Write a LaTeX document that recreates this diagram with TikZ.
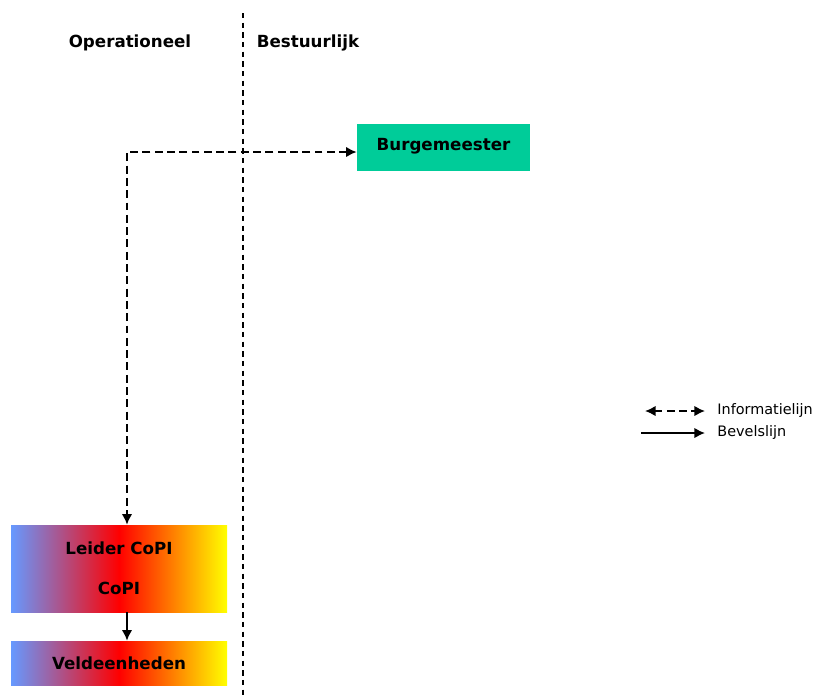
\documentclass[tikz,border=0pt]{standalone}
\usepackage{fontspec}
\setmainfont{DejaVu Sans}
\usetikzlibrary{arrows.meta, positioning}

\definecolor{burggreen}{HTML}{00CC99}
\definecolor{copiblue}{HTML}{6699FF}

\tikzset{
    kopje/.style={font=\bfseries\fontsize{9.5}{11.5}\selectfont},
    burgbox/.style={fill=burggreen, minimum width=3.46cm, minimum height=0.94cm, font=\bfseries\fontsize{9.5}{11.5}\selectfont},
    copibox/.style={left color=copiblue, right color=yellow, middle color=red, minimum width=4.32cm, align=center, font=\bfseries\fontsize{9.5}{11.5}\selectfont},
    infoline/.style={{Latex[length=6pt,width=6pt]}-{Latex[length=6pt,width=6pt]}, line width=1.1pt, dash pattern=on 4.5pt off 2.5pt},
    bevelline/.style={-{Latex[length=6pt,width=6pt]}, line width=1.1pt},
    legendtext/.style={anchor=west, inner sep=0pt, font=\fontsize{8.2}{10}\selectfont}
}

\begin{document}
\begin{tikzpicture}
    \useasboundingbox (0,0) rectangle (16.26,-13.9);

    % Kolommen
    \node[kopje] (oper) at (2.6,-0.86) {Operationeel};
    \node[kopje] (best) at (6.16,-0.86) {Bestuurlijk};
    \draw[line width=0.7pt, dash pattern=on 3pt off 2.5pt] (4.86,-0.26) -- (4.86,-13.9);

    % Boxen
    \node[burgbox] (burg) at (8.87,-2.95) {\raisebox{4pt}{Burgemeester}};
    \node[copibox, minimum height=1.74cm] (copi) at (2.38,-11.37) {Leider CoPI\\[11pt]CoPI};
    \node[copibox, minimum height=0.88cm] (veld) at (2.38,-13.26) {Veldeenheden};

    % Lijnen
    \coordinate (bend) at (2.54,-3.04);
    \draw[infoline] (burg.west |- bend) -- (bend) -- (bend |- copi.north);
    \draw[bevelline] (copi.south -| bend) -- (veld.north -| bend);

    % Legenda
    \node[legendtext] (infolbl) at (14.34,-8.22) {Informatielijn};
    \node[legendtext] (bevellbl) at (14.34,-8.66) {Bevelslijn};
    \draw[infoline] ([xshift=-1.44cm]infolbl.west) -- ([xshift=-0.24cm]infolbl.west);
    \draw[bevelline] ([xshift=-1.52cm]bevellbl.west) -- ([xshift=-0.24cm]bevellbl.west);

\end{tikzpicture}
\end{document}
